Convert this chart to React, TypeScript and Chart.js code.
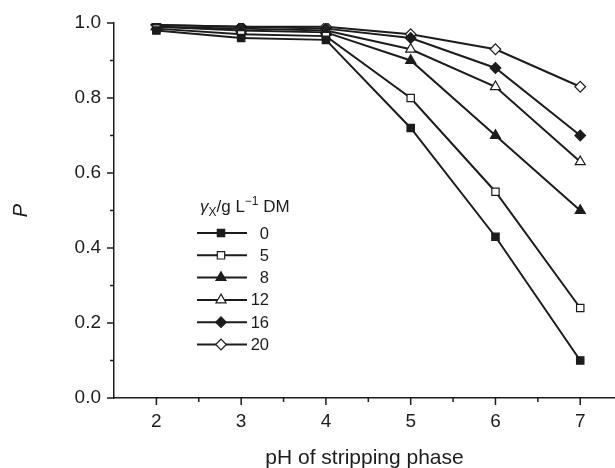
import React, { useEffect, useRef } from 'react';
import { Chart, registerables } from 'chart.js';
import { drawPoint } from 'chart.js/helpers';

Chart.register(...registerables);

// pH of stripping phase
const pH = [2, 3, 4, 5, 6, 7];
// legend names (gamma_X / g L^-1 DM)
const seriesNames = ['0', '5', '8', '12', '16', '20'];
// P values per series
const p0 = [0.98, 0.96, 0.955, 0.72, 0.43, 0.1];
const p5 = [0.985, 0.97, 0.965, 0.8, 0.55, 0.24];
const p8 = [0.99, 0.98, 0.975, 0.9, 0.7, 0.5];
const p12 = [0.99, 0.985, 0.98, 0.93, 0.83, 0.63];
const p16 = [0.995, 0.99, 0.985, 0.96, 0.88, 0.7];
const p20 = [0.995, 0.99, 0.99, 0.97, 0.93, 0.83];
const seriesValues = [p0, p5, p8, p12, p16, p20];
const pointStyles = ['rect', 'rect', 'triangle', 'triangle', 'rectRot', 'rectRot'];
const filled = [true, false, true, false, true, false];

const INK = '#1c1c1c';
const FONT = "'Liberation Sans', Arial, Helvetica, sans-serif";

const radiusFor = (s: string) => (s === 'rect' ? 5.2 : s === 'triangle' ? 5.8 : 5.3);

const axisTicks = {
  id: 'axisTicks',
  afterDraw(chart: any) {
    const { ctx, chartArea, scales } = chart;
    const x = scales.x;
    const y = scales.y;
    ctx.save();
    ctx.strokeStyle = INK;
    ctx.lineWidth = 1.5;
    for (let i = 0; i <= 10; i++) {
      const v = i / 10;
      const py = y.getPixelForValue(v);
      const len = i % 2 === 0 ? 7 : 4;
      ctx.beginPath();
      ctx.moveTo(chartArea.left - len, py);
      ctx.lineTo(chartArea.left, py);
      ctx.stroke();
    }
    for (let i = 1; i <= 12; i++) {
      const v = 1.5 + i * 0.5;
      if (v < x.min || v > x.max) continue;
      const px = x.getPixelForValue(v);
      const len = i % 2 === 1 ? 7 : 4;
      ctx.beginPath();
      ctx.moveTo(px, chartArea.bottom);
      ctx.lineTo(px, chartArea.bottom + len);
      ctx.stroke();
    }
    ctx.restore();
  },
};

const customLegend = {
  id: 'customLegend',
  afterDraw(chart: any) {
    const { ctx, chartArea } = chart;
    const x0 = chartArea.left + 86;
    const titleBase = 212;
    ctx.save();
    ctx.fillStyle = INK;
    ctx.textBaseline = 'alphabetic';
    ctx.textAlign = 'left';
    let cx = x0;
    const seg = (txt: string, font: string, dy: number) => {
      ctx.font = font;
      ctx.fillText(txt, cx, titleBase + dy);
      cx += ctx.measureText(txt).width;
    };
    seg('\u03B3', `italic 17px ${FONT}`, 0);
    seg('X', `12px ${FONT}`, 4);
    seg('/g L', `17px ${FONT}`, 0);
    seg('\u22121', `12px ${FONT}`, -7);
    seg(' DM', `17px ${FONT}`, 0);

    chart.data.datasets.forEach((ds: any, i: number) => {
      const yy = 233 + i * 22.3;
      ctx.strokeStyle = INK;
      ctx.lineWidth = 2;
      ctx.beginPath();
      ctx.moveTo(x0 - 3, yy);
      ctx.lineTo(x0 + 47, yy);
      ctx.stroke();
      ctx.fillStyle = ds.pointBackgroundColor;
      ctx.strokeStyle = ds.pointBorderColor;
      ctx.lineWidth = ds.pointBorderWidth;
      drawPoint(ctx, { pointStyle: ds.pointStyle, radius: ds.pointRadius, rotation: 0, borderWidth: ds.pointBorderWidth }, x0 + 21, yy);
      ctx.fillStyle = INK;
      ctx.font = `16.5px ${FONT}`;
      ctx.textAlign = 'right';
      ctx.textBaseline = 'middle';
      ctx.fillText(ds.label, x0 + 69, yy + 1);
    });
    ctx.restore();
  },
};

export default function App() {
  const ref = useRef<HTMLCanvasElement | null>(null);
  useEffect(() => {
    if (!ref.current) return;
    const datasets = seriesNames.map((name, i) => ({
      label: name,
      data: pH.map((x, j) => ({ x, y: seriesValues[i][j] })),
      borderColor: INK,
      borderWidth: 2,
      pointStyle: pointStyles[i],
      pointRadius: radiusFor(pointStyles[i]),
      pointBackgroundColor: filled[i] ? INK : '#ffffff',
      pointBorderColor: INK,
      pointBorderWidth: 1.2,
      fill: false,
      tension: 0,
    }));
    const chart = new Chart(ref.current, {
      type: 'line',
      data: { datasets },
      options: {
        animation: false,
        responsive: true,
        maintainAspectRatio: false,
        layout: { autoPadding: false, padding: { top: 23, right: 0, left: 0, bottom: 0 } },
        plugins: { legend: { display: false }, tooltip: { enabled: false } },
        scales: {
          x: {
            type: 'linear',
            min: 1.5,
            max: 7.41,
            afterFit: (s: any) => { s.height = 70; s.paddingRight = 0; s.paddingLeft = 0; },
            grid: { display: false, drawTicks: false },
            border: { display: true, color: INK, width: 1.5 },
            ticks: {
              stepSize: 1,
              includeBounds: false,
              padding: 12,
              color: INK,
              font: { family: FONT, size: 19 },
              callback: (v: any) => String(v),
            },
            title: {
              display: true,
              text: 'pH of stripping phase',
              color: INK,
              font: { family: FONT, size: 21, lineHeight: 1.0 },
              padding: { top: 0, bottom: -1 },
            },
          },
          y: {
            type: 'linear',
            min: 0,
            max: 1,
            afterFit: (s: any) => { s.width = 114; s.paddingTop = 0; s.paddingBottom = 0; },
            grid: { display: false, drawTicks: false },
            border: { display: true, color: INK, width: 1.5 },
            ticks: {
              stepSize: 0.2,
              padding: 13,
              color: INK,
              font: { family: FONT, size: 19 },
              callback: (v: any) => Number(v).toFixed(1),
            },
            title: {
              display: true,
              text: 'P',
              color: INK,
              font: { family: FONT, size: 20, style: 'italic' },
              padding: { top: 9, bottom: 0 },
            },
          },
        },
      },
      plugins: [axisTicks, customLegend],
    });
    return () => chart.destroy();
  }, []);
  return (
    <div style={{ position: 'fixed', left: 0, top: 0, width: 615, height: 468, background: '#fff' }}>
      <canvas ref={ref} />
    </div>
  );
}
